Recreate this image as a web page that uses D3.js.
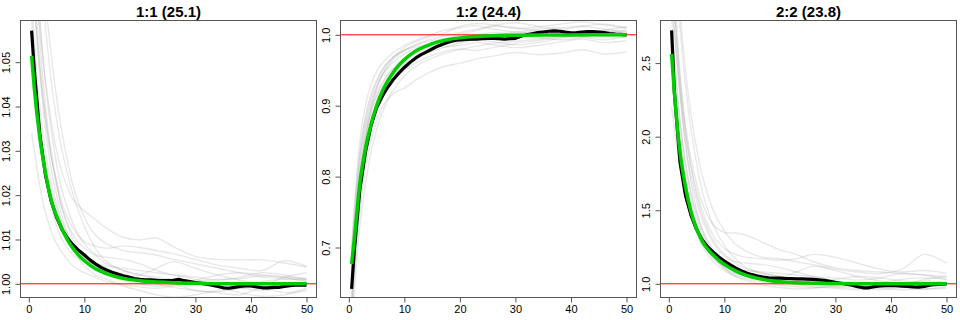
<!DOCTYPE html>
<html><head><meta charset="utf-8">
<script src="https://cdn.jsdelivr.net/npm/d3@7"></script>
<style>
html,body{margin:0;padding:0;background:#fff;}
svg{display:block;font-family:"Liberation Sans",Arial,Helvetica,sans-serif;}
</style></head>
<body><svg id="c" width="960" height="320"></svg>
<script>
// ---------------- DATA ----------------
const panelTitles = ["1:1 (25.1)", "1:2 (24.4)", "2:2 (23.8)"];
const xTicks = [0, 10, 20, 30, 40, 50];
const yTicks1 = [1.00, 1.01, 1.02, 1.03, 1.04, 1.05];
const yTicks2 = [0.7, 0.8, 0.9, 1.0];
const yTicks3 = [1.0, 1.5, 2.0, 2.5];
const yLabels1 = ["1.00", "1.01", "1.02", "1.03", "1.04", "1.05"];
const yLabels2 = ["0.7", "0.8", "0.9", "1.0"];
const yLabels3 = ["1.0", "1.5", "2.0", "2.5"];
const xLim = [-1.5, 51.8];
const yLim1 = [0.99691, 1.0594];
const yLim2 = [0.6295, 1.0202];
const yLim3 = [0.9069, 2.7896];
const refLevel = [1, 1, 1];

// x grid for mean (black) series
const xMean = [0.5,1,2,3,4,5,6,7,8,9,10,11,12,13,14,15,16,17,18,19,20,21,22,23,24,25,26,27,28,29,30,31,32,33,34,35,36,37,38,39,40,41,42,43,44,45,46,47,48,49,50];
const mean1 = [1.0571,1.0480,1.0335,1.0245,1.0188,1.0150,1.0122,1.0102,1.0087,1.0075,1.0065,1.0054,1.0045,1.0037,1.0031,1.0026,1.0022,1.0018,1.0015,1.0012,1.0010,1.0009,1.0009,1.0008,1.0007,1.0007,1.0008,1.0010,1.0007,1.0005,1.0003,1.0001,0.9999,0.9997,0.9994,0.9991,0.9990,0.9992,0.9994,0.9995,0.9995,0.9993,0.9991,0.9991,0.9992,0.9992,0.9994,0.9996,0.9997,0.9997,0.9997];
const mean2 = [0.6417,0.697,0.783,0.835,0.872,0.897,0.913,0.926,0.937,0.946,0.954,0.961,0.967,0.972,0.976,0.980,0.984,0.987,0.990,0.992,0.993,0.9935,0.994,0.994,0.9945,0.9948,0.9948,0.9945,0.994,0.9945,0.995,0.998,1.000,1.0015,1.003,1.004,1.005,1.0056,1.005,1.0038,1.0028,1.003,1.004,1.0045,1.0045,1.004,1.003,1.0018,1.001,1.0005,1.000];
const mean3 = [2.722,2.30,1.83,1.60,1.465,1.37,1.30,1.25,1.215,1.182,1.155,1.130,1.108,1.089,1.073,1.062,1.053,1.046,1.041,1.039,1.038,1.036,1.035,1.034,1.033,1.032,1.030,1.027,1.024,1.017,1.010,1.004,0.998,0.990,0.980,0.973,0.973,0.981,0.986,0.988,0.989,0.987,0.984,0.982,0.979,0.978,0.983,0.990,0.995,0.998,1.000];

// x grid for fitted (green) series
const xFit = [0.5,1,2,3,4,5,6,7,8,9,10,12,14,16,18,20,25,30,35,40,45,50];
const fit1 = [1.0514,1.0439,1.0327,1.0250,1.0190,1.0153,1.0123,1.0098,1.0079,1.0064,1.0052,1.0034,1.0023,1.0015,1.0010,1.0007,1.0003,1.0001,1.0000,1.0000,1.0000,1.0000];
const fit2 = [0.677,0.713,0.792,0.840,0.874,0.900,0.920,0.935,0.947,0.957,0.965,0.977,0.9845,0.990,0.9935,0.9957,0.9984,0.9994,0.9998,0.9999,1.000,1.000];
const fit3 = [2.563,2.30,1.90,1.66,1.49,1.375,1.29,1.235,1.195,1.160,1.132,1.088,1.057,1.037,1.023,1.014,1.005,1.0015,1.0005,1.0002,1.0001,1.000];

// x grid for individual replicate (grey) series
const xRep = [0.5,1,2,3,4,5,6,8,10,12,14,17,20,23,26,30,34,38,42,46,50];
const reps1 = [
 [1.095,1.080,1.060,1.045,1.035,1.027,1.021,1.0135,1.009,1.0065,1.0045,1.003,1.002,1.0015,1.001,1.0005,1.0,0.9995,1.0005,1.001,1.0008],
 [1.085,1.075,1.058,1.046,1.037,1.030,1.025,1.019,1.0165,1.0145,1.0125,1.0105,1.0099,1.0103,1.0084,1.0062,1.0055,1.0054,1.0054,1.0047,1.0038],
 [1.070,1.062,1.048,1.037,1.029,1.023,1.018,1.0125,1.0095,1.0085,1.0080,1.0085,1.0082,1.0075,1.0068,1.0055,1.0042,1.0035,1.0030,1.0052,1.0039],
 [1.034,1.030,1.022,1.016,1.012,1.009,1.007,1.004,1.0025,1.0015,1.0005,0.9998,0.9993,0.9990,0.9995,1.0005,1.001,1.0012,1.0018,1.0015,1.0012],
 [1.090,1.076,1.055,1.040,1.030,1.023,1.017,1.010,1.006,1.004,1.0025,1.0015,1.002,1.0035,1.005,1.0035,1.002,1.0008,1.0,0.9995,1.0005],
 [1.065,1.055,1.040,1.030,1.023,1.018,1.014,1.009,1.006,1.004,1.003,1.0015,1.0005,1.0,0.9992,0.9985,0.9982,0.999,0.9995,1.0015,1.0025],
 [1.100,1.090,1.072,1.058,1.046,1.037,1.030,1.020,1.013,1.008,1.005,1.003,1.002,1.001,1.0,0.9985,0.998,0.9975,0.999,0.998,0.9985],
 [1.060,1.050,1.035,1.025,1.018,1.013,1.010,1.0065,1.005,1.0045,1.004,1.0035,1.003,1.0025,1.002,1.0015,1.0008,1.0015,1.0025,1.002,1.001],
 [1.080,1.068,1.050,1.038,1.029,1.022,1.017,1.011,1.008,1.0065,1.006,1.0055,1.0045,1.003,1.002,1.001,0.9995,0.998,0.9972,0.9975,0.999],
 [1.075,1.064,1.047,1.035,1.026,1.020,1.015,1.008,1.004,1.002,1.001,0.9995,0.9985,0.9975,0.997,0.9975,0.9985,0.999,0.9985,0.9993,0.9998],
 [1.110,1.100,1.080,1.064,1.052,1.042,1.034,1.022,1.015,1.011,1.009,1.0075,1.007,1.0065,1.0055,1.0045,1.0035,1.0025,1.0015,1.0012,1.001],
 [1.050,1.044,1.034,1.027,1.021,1.017,1.013,1.008,1.005,1.003,1.002,1.0008,1.0,0.9995,0.9998,1.0008,1.002,1.0025,1.002,1.0015,1.0005]
];
const reps2 = [
 [0.62,0.69,0.79,0.855,0.895,0.922,0.942,0.965,0.978,0.986,0.992,0.998,1.003,1.008,1.012,1.010,1.006,1.004,1.002,1.006,1.003],
 [0.66,0.72,0.81,0.865,0.90,0.925,0.945,0.968,0.982,0.990,0.996,1.002,1.012,1.016,1.014,1.009,1.011,1.015,1.018,1.014,1.009],
 [0.60,0.66,0.75,0.81,0.85,0.878,0.898,0.917,0.925,0.936,0.945,0.955,0.960,0.966,0.970,0.975,0.972,0.974,0.979,0.973,0.976],
 [0.64,0.70,0.795,0.852,0.888,0.912,0.930,0.952,0.965,0.974,0.980,0.986,0.990,0.994,0.998,1.002,1.005,1.001,0.997,0.993,0.998],
 [0.68,0.74,0.83,0.88,0.912,0.933,0.950,0.969,0.978,0.983,0.985,0.983,0.985,0.989,0.986,0.982,0.985,0.990,0.994,0.989,0.992],
 [0.61,0.67,0.77,0.83,0.87,0.897,0.917,0.943,0.958,0.967,0.974,0.982,0.988,0.994,1.000,1.004,1.008,1.010,1.012,1.008,1.005],
 [0.70,0.76,0.85,0.90,0.930,0.948,0.960,0.975,0.985,0.992,0.998,1.006,1.010,1.013,1.008,1.004,1.002,0.999,1.002,1.007,1.011],
 [0.63,0.69,0.78,0.835,0.872,0.896,0.914,0.935,0.950,0.960,0.968,0.976,0.980,0.978,0.982,0.988,0.992,0.996,1.000,0.998,1.002],
 [0.67,0.73,0.82,0.873,0.905,0.927,0.943,0.961,0.973,0.980,0.984,0.988,0.991,0.993,0.990,0.986,0.989,0.995,1.001,1.004,1.000],
 [0.65,0.71,0.80,0.858,0.893,0.916,0.933,0.953,0.966,0.974,0.982,0.992,1.000,1.006,1.013,1.017,1.012,1.008,1.012,1.015,1.010],
 [0.59,0.64,0.73,0.79,0.835,0.866,0.890,0.922,0.942,0.955,0.964,0.973,0.979,0.984,0.988,0.991,0.994,0.998,1.003,0.999,0.996],
 [0.69,0.75,0.835,0.885,0.916,0.936,0.951,0.968,0.978,0.985,0.990,0.995,0.997,1.000,1.003,1.000,0.996,0.993,0.996,1.003,1.006]
];
const reps3 = [
 [3.3,3.0,2.45,2.05,1.78,1.60,1.47,1.30,1.20,1.14,1.10,1.07,1.05,1.03,1.02,1.01,0.995,0.985,1.00,1.02,1.01],
 [3.1,2.85,2.40,2.08,1.85,1.68,1.55,1.40,1.35,1.345,1.33,1.28,1.23,1.20,1.15,1.11,1.09,1.08,1.07,1.06,1.05],
 [2.9,2.70,2.32,2.02,1.80,1.63,1.50,1.33,1.24,1.20,1.18,1.17,1.16,1.17,1.20,1.18,1.14,1.10,1.08,1.09,1.07],
 [2.2,2.05,1.80,1.60,1.45,1.34,1.26,1.15,1.09,1.05,1.02,0.99,0.975,0.965,0.97,0.99,1.00,1.01,1.03,1.04,1.03],
 [3.2,2.90,2.35,1.95,1.68,1.50,1.37,1.20,1.11,1.06,1.04,1.03,1.04,1.08,1.12,1.09,1.05,1.02,1.00,0.99,1.01],
 [2.7,2.50,2.10,1.82,1.62,1.48,1.37,1.23,1.15,1.10,1.07,1.04,1.02,1.00,0.98,0.97,0.96,0.975,0.99,1.03,1.05],
 [3.5,3.25,2.75,2.35,2.05,1.82,1.63,1.40,1.26,1.17,1.11,1.07,1.05,1.03,1.01,0.98,0.97,0.96,0.975,0.965,0.97],
 [2.6,2.40,2.00,1.72,1.53,1.39,1.29,1.17,1.12,1.10,1.09,1.08,1.07,1.06,1.05,1.04,1.025,1.04,1.07,1.06,1.03],
 [3.0,2.75,2.28,1.95,1.72,1.56,1.44,1.28,1.19,1.15,1.14,1.13,1.11,1.08,1.05,1.02,0.99,0.97,0.96,0.965,0.98],
 [2.8,2.55,2.12,1.82,1.60,1.45,1.34,1.19,1.10,1.05,1.03,1.01,0.99,0.98,0.975,0.98,0.99,1.00,0.99,1.00,1.005],
 [3.6,3.35,2.85,2.45,2.15,1.92,1.74,1.50,1.36,1.27,1.22,1.18,1.17,1.15,1.13,1.10,1.08,1.07,1.10,1.20,1.14],
 [2.5,2.30,1.95,1.70,1.52,1.39,1.30,1.18,1.11,1.07,1.05,1.03,1.01,1.00,1.01,1.03,1.05,1.04,1.02,1.01,1.00]
];

// ---------------- DRAW ----------------
const panels = [
  {title: panelTitles[0], yLim: yLim1, yTicks: yTicks1, yLabels: yLabels1, mean: mean1, fit: fit1, reps: reps1, ref: refLevel[0]},
  {title: panelTitles[1], yLim: yLim2, yTicks: yTicks2, yLabels: yLabels2, mean: mean2, fit: fit2, reps: reps2, ref: refLevel[1]},
  {title: panelTitles[2], yLim: yLim3, yTicks: yTicks3, yLabels: yLabels3, mean: mean3, fit: fit3, reps: reps3, ref: refLevel[2]}
];

const svg = d3.select("#c");
const PW = 320, L = 20.5, R = 316.5, T = 20.5, B = 297.5;
const frameCol = "#555";

panels.forEach((p, i) => {
  const g = svg.append("g").attr("transform", `translate(${i * PW},0)`);
  const x = d3.scaleLinear().domain(xLim).range([L, R]);
  const y = d3.scaleLinear().domain(p.yLim).range([B, T]);

  const clipId = "clip" + i;
  g.append("clipPath").attr("id", clipId)
    .append("rect").attr("x", L).attr("y", T).attr("width", R - L).attr("height", B - T);
  const plot = g.append("g").attr("clip-path", `url(#${clipId})`);

  const repLine = d3.line().x((d, k) => x(xRep[k])).y(d => y(d)).curve(d3.curveCatmullRom.alpha(0.5));
  plot.selectAll("path.rep").data(p.reps).join("path")
    .attr("class", "rep").attr("d", repLine)
    .attr("fill", "none").attr("stroke", "rgba(150,150,150,0.22)").attr("stroke-width", 1.4);

  plot.append("line")
    .attr("x1", L).attr("x2", R).attr("y1", y(p.ref)).attr("y2", y(p.ref))
    .attr("stroke", "#ff0000").attr("stroke-width", 1);

  const meanLine = d3.line().x((d, k) => x(xMean[k])).y(d => y(d));
  plot.append("path").datum(p.mean).attr("d", meanLine)
    .attr("fill", "none").attr("stroke", "#000").attr("stroke-width", 3.2)
    .attr("stroke-linejoin", "round");

  const fitLine = d3.line().x((d, k) => x(xFit[k])).y(d => y(d)).curve(d3.curveMonotoneX);
  plot.append("path").datum(p.fit).attr("d", fitLine)
    .attr("fill", "none").attr("stroke", "#00cd00").attr("stroke-width", 3.5);

  // frame
  g.append("rect").attr("x", L).attr("y", T).attr("width", R - L).attr("height", B - T)
    .attr("fill", "none").attr("stroke", frameCol).attr("stroke-width", 1);

  // x axis
  const xa = g.append("g").attr("transform", `translate(0,${B})`)
    .call(d3.axisBottom(x).tickValues(xTicks).tickSize(5).tickSizeOuter(0).tickFormat(d3.format("d")));
  xa.select(".domain").remove();
  xa.selectAll(".tick line").attr("stroke", frameCol);
  xa.selectAll(".tick text").attr("y", null).attr("dy", null).attr("transform", null)
    .attr("y", 15.5).attr("font-size", 11).attr("fill", "#000")
    .attr("font-family", "'Liberation Sans', Arial, sans-serif");

  // y axis
  const ya = g.append("g").attr("transform", `translate(${L},0)`)
    .call(d3.axisLeft(y).tickValues(p.yTicks).tickSize(5).tickSizeOuter(0)
      .tickFormat((d, k) => p.yLabels[k]));
  ya.select(".domain").remove();
  ya.selectAll(".tick line").attr("stroke", frameCol);
  ya.selectAll(".tick text")
    .attr("x", 0).attr("dy", null).attr("y", -10.5)
    .attr("transform", "rotate(-90)").attr("text-anchor", "middle")
    .attr("font-size", 11).attr("fill", "#000")
    .attr("font-family", "'Liberation Sans', Arial, sans-serif");

  // title
  g.append("text").attr("x", (L + R) / 2).attr("y", 16.5)
    .attr("text-anchor", "middle").attr("font-weight", "bold").attr("font-size", 15)
    .attr("fill", "#000").text(p.title);
});
</script>
</body></html>
